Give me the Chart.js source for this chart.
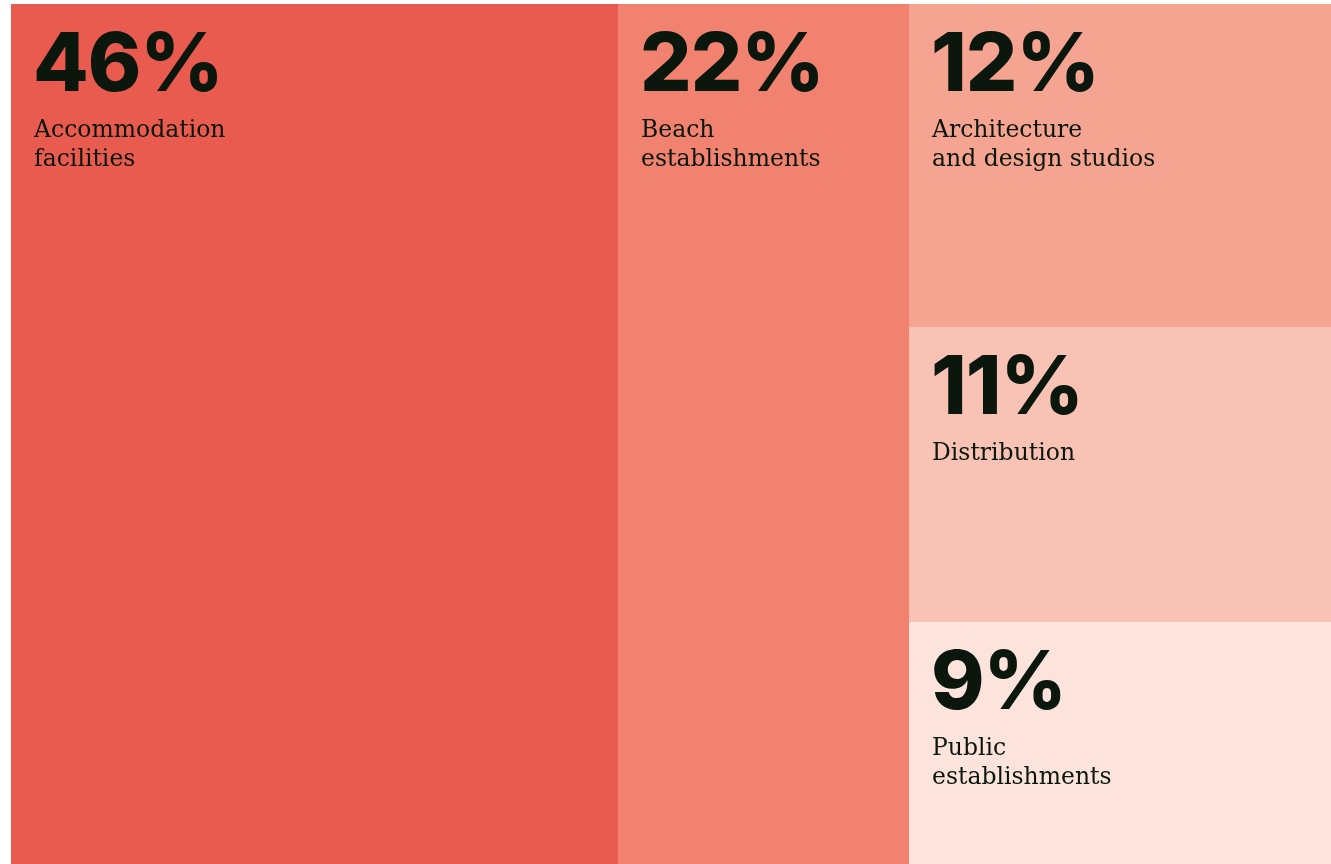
<!DOCTYPE html>
<html>
<head>
<meta charset="utf-8">
<script src="https://cdn.jsdelivr.net/npm/chart.js@4.4.1/dist/chart.umd.min.js"></script>
<style>
  html, body { margin: 0; padding: 0; background: #fff; }
  #wrap { width: 1331px; height: 864px; position: relative; }
</style>
</head>
<body>
<div id="wrap"><canvas id="treeChart"></canvas></div>
<script>
// data
const categories = [
    'Accommodation\nfacilities',
    'Beach\nestablishments',
    'Architecture\nand design studios',
    'Distribution',
    'Public\nestablishments'
];
const shares = [46, 22, 12, 11, 9];
const colors = ['#ea5b4f', '#f0826f', '#f4a491', '#f8c3b4', '#fce3dc'];
// which categories share a column (slice layout)
const columns = [[0], [1], [2, 3, 4]];

const textColor = '#0b160c';

// build the cells in data units (0..100 on both axes)
function buildCells() {
    const cells = [];
    let x = 0;
    columns.forEach(col => {
        const colSum = col.reduce((s, i) => s + shares[i], 0);
        let y = 0;
        col.forEach(i => {
            const h = shares[i] / colSum * 100;
            cells.push({ i: i, x0: x, x1: x + colSum, y0: y, y1: y + h });
            y += h;
        });
        x += colSum;
    });
    return cells;
}

const treemapPlugin = {
    id: 'treemap',
    beforeDatasetsDraw(chart) {
        const ctx = chart.ctx;
        const xs = chart.scales.x;
        const ys = chart.scales.y;
        const cells = buildCells();
        ctx.save();
        cells.forEach(c => {
            const left = Math.round(xs.getPixelForValue(c.x0));
            const right = Math.round(xs.getPixelForValue(c.x1));
            const top = Math.round(ys.getPixelForValue(c.y0));
            const bottom = Math.round(ys.getPixelForValue(c.y1));
            ctx.fillStyle = colors[c.i];
            ctx.fillRect(left, top, right - left, bottom - top);
        });
        cells.forEach(c => {
            const left = Math.round(xs.getPixelForValue(c.x0));
            const top = Math.round(ys.getPixelForValue(c.y0));
            ctx.fillStyle = textColor;
            ctx.textBaseline = 'alphabetic';
            ctx.textAlign = 'left';
            ctx.font = '800 81px Inter';
            ctx.letterSpacing = '-1px';
            ctx.fillText(shares[c.i] + '%', left + 22, top + 87);
            ctx.letterSpacing = '0px';
            ctx.font = '23.5px "DejaVu Serif"';
            categories[c.i].split('\n').forEach((line, k) => {
                ctx.fillText(line, left + 23, top + 133 + k * 29);
            });
        });
        ctx.restore();
    }
};

const treeChart = new Chart(document.getElementById('treeChart'), {
    type: 'scatter',
    data: { datasets: [{ data: [] }] },
    options: {
        responsive: true,
        maintainAspectRatio: false,
        animation: false,
        layout: { padding: { left: 11, top: 4, right: 0, bottom: 0 } },
        plugins: {
            legend: { display: false },
            tooltip: { enabled: false }
        },
        scales: {
            x: { type: 'linear', min: 0, max: 100, display: false },
            y: { type: 'linear', min: 0, max: 100, reverse: true, display: false }
        }
    },
    plugins: [treemapPlugin]
});
</script>
</body>
</html>
